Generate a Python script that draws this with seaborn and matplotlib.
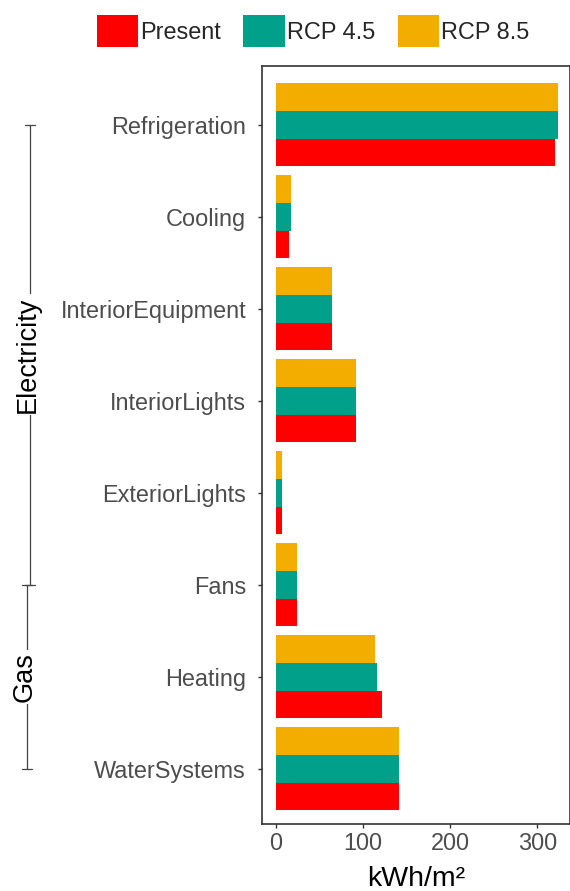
import matplotlib
matplotlib.use("Agg")
import matplotlib.pyplot as plt
import matplotlib.transforms as mtransforms
from matplotlib.patches import Patch
import pandas as pd
import seaborn as sns

# End uses (top to bottom) and annual energy intensity per scenario, kWh/m²
end_uses = ["Refrigeration", "Cooling", "InteriorEquipment", "InteriorLights",
            "ExteriorLights", "Fans", "Heating", "WaterSystems"]
present = [320, 15, 65, 92, 7.5, 24, 122, 141]
rcp45 = [324, 17.5, 65, 92, 7.5, 24, 116, 141]
rcp85 = [324, 17.5, 65, 92, 7.5, 24, 113.5, 141]

scenarios = ["Present", "RCP 4.5", "RCP 8.5"]
colors = {"Present": "#FF0000", "RCP 4.5": "#00A08A", "RCP 8.5": "#F2AD00"}
x_ticks = [0, 100, 200, 300]

# Fuel groups shown as brackets on the left
fuel_groups = ["Electricity", "Gas"]
group_spans = [("Refrigeration", "Fans"), ("Fans", "WaterSystems")]

df = pd.DataFrame({
    "end_use": end_uses * 3,
    "scenario": ["Present"] * 8 + ["RCP 4.5"] * 8 + ["RCP 8.5"] * 8,
    "value": present + rcp45 + rcp85,
})

sns.set_theme(style="white")
plt.rcParams["font.family"] = ["Liberation Sans", "DejaVu Sans"]

fig = plt.figure(figsize=(5.70, 8.91), dpi=100)
ax = fig.add_axes([262 / 570, 1 - 824 / 891, 1 - 262 / 570, (824 - 66) / 891])

# within each group: RCP 8.5 on top, Present at the bottom
sns.barplot(data=df, x="value", y="end_use", hue="scenario",
            order=end_uses, hue_order=["RCP 8.5", "RCP 4.5", "Present"],
            palette=colors, saturation=1, orient="h", width=0.9, linewidth=0,
            errorbar=None, legend=False, ax=ax)

ax.set_xlim(-15.7, 337.5)
ax.set_ylim(len(end_uses) - 1 + 0.6, -0.64)
ax.set_xticks(x_ticks)
ax.set_xticklabels([str(t) for t in x_ticks])
ax.set_ylabel("")
ax.set_xlabel("kWh/m²", fontsize=20.5, color="black", labelpad=8)
ax.tick_params(axis="both", labelsize=16.9, labelcolor="#4D4D4D",
               color="#333333", length=3, width=1, left=True, bottom=True)
ax.tick_params(axis="x", pad=3)
ax.tick_params(axis="y", pad=8.5)
for sp in ax.spines.values():
    sp.set_visible(True)
    sp.set_color("#333333")
    sp.set_linewidth(1.2)
ax.grid(False)

# Fuel brackets with rotated labels
trans = mtransforms.blended_transform_factory(fig.transFigure, ax.transData)
pos = {name: i for i, name in enumerate(end_uses)}
bx = [29.5 / 570, 27 / 570]
cap = 5 / 570
for label, (a, b), x in zip(fuel_groups, group_spans, bx):
    y0, y1 = pos[a], pos[b]
    ax.plot([x, x], [y0, y1], color="#444444", lw=0.9, transform=trans, clip_on=False)
    for yy in (y0, y1):
        ax.plot([x - cap, x + cap], [yy, yy], color="#444444", lw=0.9,
                transform=trans, clip_on=False)
    ax.text(x - 2 / 570, (y0 + y1) / 2, label, transform=trans, rotation=90,
            ha="center", va="center", fontsize=19.5, color="black",
            bbox=dict(facecolor="white", edgecolor="none", pad=1.5), clip_on=False)

handles = [Patch(facecolor=colors[s], edgecolor="none", label=s) for s in scenarios]
fig.legend(handles=handles, loc="center", bbox_to_anchor=(313 / 570, 1 - 31 / 891),
           ncol=3, frameon=False, fontsize=16.9, handlelength=1.78, handleheight=1.78,
           handletextpad=0.08, columnspacing=0.95, borderpad=0, borderaxespad=0)

fig.savefig("out.png", dpi=100)
